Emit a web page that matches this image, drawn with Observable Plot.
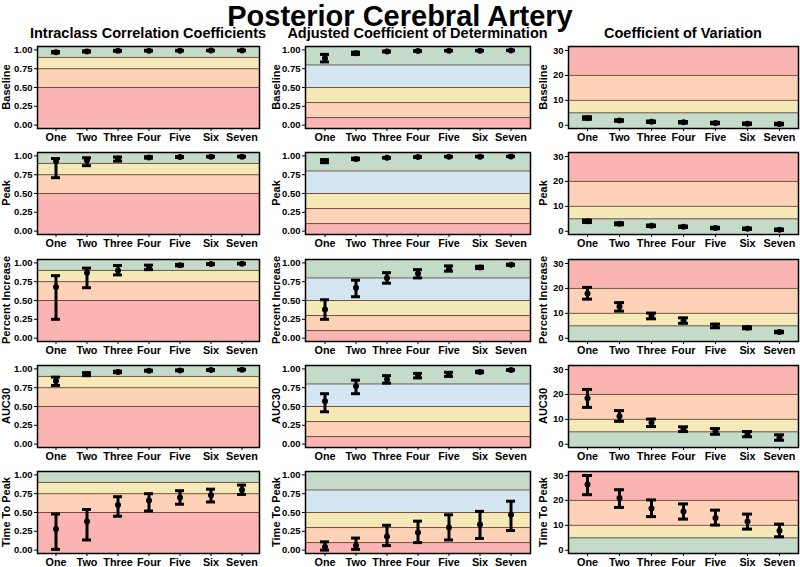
<!DOCTYPE html>
<html><head><meta charset="utf-8">
<script src="https://cdn.jsdelivr.net/npm/d3@7"></script>
<script src="https://cdn.jsdelivr.net/npm/@observablehq/plot@0.6"></script>
<style>
body{margin:0;background:#fff;}
#chart{position:relative;width:800px;height:567px;font-family:"Liberation Sans",Arial,sans-serif;font-weight:bold;color:#000;overflow:hidden}
.abs{position:absolute;white-space:nowrap;line-height:1}
</style></head><body><div id="chart"></div>
<script>
const mainTitle = "Posterior Cerebral Artery";
const columnTitles = ["Intraclass Correlation Coefficients", "Adjusted Coefficient of Determination", "Coefficient of Variation"];
const categories = ["One","Two","Three","Four","Five","Six","Seven"];
const rowLabels = ["Baseline","Peak","Percent Increase","AUC30","Time To Peak"];

// Intraclass correlation coefficients (rows: Baseline, Peak, Percent Increase, AUC30, Time To Peak)
const iccMean = [
  [0.970,0.980,0.988,0.990,0.990,0.992,0.993],
  [0.930,0.940,0.965,0.980,0.985,0.990,0.990],
  [0.680,0.870,0.900,0.940,0.970,0.985,0.990],
  [0.840,0.930,0.960,0.975,0.980,0.985,0.990],
  [0.280,0.380,0.600,0.660,0.700,0.730,0.800]];
const iccLow = [
  [0.960,0.972,0.982,0.985,0.986,0.988,0.989],
  [0.710,0.870,0.930,0.970,0.978,0.985,0.986],
  [0.250,0.670,0.840,0.910,0.960,0.978,0.986],
  [0.780,0.910,0.950,0.970,0.975,0.980,0.986],
  [0.010,0.135,0.450,0.520,0.610,0.640,0.740]];
const iccHigh = [
  [0.978,0.987,0.993,0.994,0.994,0.995,0.996],
  [0.965,0.975,0.985,0.990,0.992,0.994,0.995],
  [0.830,0.930,0.965,0.970,0.980,0.990,0.994],
  [0.890,0.950,0.970,0.982,0.986,0.990,0.994],
  [0.480,0.540,0.710,0.750,0.790,0.810,0.865]];

// Adjusted coefficient of determination
const r2Mean = [
  [0.890,0.955,0.978,0.985,0.990,0.990,0.993],
  [0.930,0.960,0.975,0.985,0.990,0.990,0.993],
  [0.380,0.670,0.800,0.860,0.920,0.940,0.975],
  [0.570,0.770,0.860,0.910,0.930,0.960,0.985],
  [0.040,0.060,0.180,0.235,0.300,0.340,0.470]];
const r2Low = [
  [0.840,0.940,0.972,0.981,0.986,0.987,0.990],
  [0.910,0.950,0.970,0.980,0.986,0.987,0.990],
  [0.250,0.550,0.730,0.800,0.890,0.925,0.968],
  [0.430,0.670,0.810,0.880,0.900,0.950,0.980],
  [0.000,0.010,0.060,0.100,0.135,0.155,0.260]];
const r2High = [
  [0.940,0.970,0.984,0.989,0.993,0.993,0.996],
  [0.950,0.970,0.980,0.990,0.993,0.994,0.996],
  [0.510,0.770,0.870,0.910,0.960,0.955,0.982],
  [0.670,0.850,0.910,0.940,0.955,0.970,0.990],
  [0.110,0.160,0.330,0.385,0.470,0.515,0.650]];

// Coefficient of variation (%)
const cvMean = [
  [2.9,1.9,1.4,1.2,0.9,0.6,0.5],
  [4.0,3.0,2.2,1.8,1.3,1.0,0.6],
  [18.0,12.7,9.0,7.0,5.0,4.2,2.5],
  [18.5,11.2,8.6,6.0,5.2,4.0,2.6],
  [26.4,21.0,16.8,15.6,12.9,11.5,7.8]];
const cvLow = [
  [2.4,1.6,1.1,0.9,0.6,0.3,0.2],
  [3.5,2.6,1.9,1.5,1.0,0.7,0.3],
  [15.7,10.9,7.8,6.0,4.2,3.8,2.2],
  [14.8,9.2,7.1,5.1,4.0,3.0,1.6],
  [22.3,17.2,13.5,12.5,10.1,8.5,5.4]];
const cvHigh = [
  [3.4,2.2,1.7,1.5,1.2,0.9,0.8],
  [4.5,3.4,2.5,2.1,1.6,1.3,0.9],
  [20.4,14.3,10.1,8.2,5.7,4.6,2.8],
  [22.0,13.5,10.1,7.0,6.3,5.1,3.8],
  [30.0,24.3,20.2,18.6,16.1,14.5,10.5]];

// Thresholds for the background zones
const iccBreaks = [0.5, 0.75, 0.9];
const r2Breaks = [0.1, 0.3, 0.5, 0.8];
const cvBreaks = [5, 10, 20];
const unitTicks = [0, 0.25, 0.5, 0.75, 1];
const cvTicks = [0, 10, 20, 30];

const GREEN = "#c4dbca", YELLOW = "#f6e9b8", SALMON = "#fdd2b7", RED = "#fab4b1", BLUE = "#d5e6f3";

const columns = [
  {mean: iccMean, low: iccLow, high: iccHigh, breaks: iccBreaks, domain: [-0.045, 1.045],
   colors: [RED, SALMON, YELLOW, GREEN], ticks: unitTicks, fmt: d3.format(".2f"),
   frameLeft: 37, frameWidth: 222, labelX: 6},
  {mean: r2Mean, low: r2Low, high: r2High, breaks: r2Breaks, domain: [-0.045, 1.045],
   colors: [RED, SALMON, YELLOW, BLUE, GREEN], ticks: unitTicks, fmt: d3.format(".2f"),
   frameLeft: 305, frameWidth: 225, labelX: 276},
  {mean: cvMean, low: cvLow, high: cvHigh, breaks: cvBreaks, domain: [-1.3, 31.6],
   colors: [GREEN, YELLOW, SALMON, RED], ticks: cvTicks, fmt: d3.format("d"),
   frameLeft: 568, frameWidth: 230, labelX: 543}
];
const frameTops = [46, 152, 258.5, 365, 471];
const frameH = 82;
const mL = 32, mR = 3, mT = 4, mB = 20;

const chart = document.getElementById("chart");

function addText(txt, left, top, size, extra) {
  const d = document.createElement("div");
  d.className = "abs";
  d.textContent = txt;
  d.style.left = left + "px";
  d.style.top = top + "px";
  d.style.fontSize = size + "px";
  if (extra) Object.assign(d.style, extra);
  chart.appendChild(d);
  return d;
}

addText(mainTitle, 400, 2, 29, {transform: "translateX(-50%)"});
columns.forEach((c, ci) => {
  addText(columnTitles[ci], c.frameLeft + c.frameWidth / 2, 25.7, 14.5, {transform: "translateX(-50%)"});
});

columns.forEach((c, ci) => {
  rowLabels.forEach((rl, ri) => {
    const data = categories.map((cat, i) => ({cat, mean: c.mean[ri][i], low: c.low[ri][i], high: c.high[ri][i]}));
    const edges = [c.domain[0], ...c.breaks, c.domain[1]];
    const bands = c.colors.map((f, i) => ({y1: edges[i], y2: edges[i + 1], fill: f}));
    const svg = Plot.plot({
      width: c.frameWidth + mL + mR,
      height: frameH + mT + mB,
      marginLeft: mL, marginRight: mR, marginTop: mT, marginBottom: mB,
      x: {type: "band", domain: categories, paddingInner: 0, paddingOuter: 0.08},
      y: {domain: c.domain},
      color: {type: "identity"},
      style: {fontFamily: "'Liberation Sans', Arial, sans-serif", fontWeight: "bold", background: "transparent", color: "#000", overflow: "visible"},
      marks: [
        Plot.rect(bands, {y1: "y1", y2: "y2", fill: "fill"}),
        Plot.ruleY(c.breaks, {stroke: "#5b3a2c", strokeWidth: 1, strokeOpacity: 0.85}),
        Plot.ruleX(data, {x: "cat", y1: "low", y2: "high", stroke: "#000", strokeWidth: 3}),
        Plot.tickY(data, {x: "cat", y: "low", stroke: "#000", strokeWidth: 3, insetLeft: 11, insetRight: 11}),
        Plot.tickY(data, {x: "cat", y: "high", stroke: "#000", strokeWidth: 3, insetLeft: 11, insetRight: 11}),
        Plot.dot(data, {x: "cat", y: "mean", r: 3, fill: "#000"}),
        Plot.frame({stroke: "#000", strokeWidth: 1.5}),
        Plot.axisX({tickSize: 3, tickPadding: 2, fontSize: 10.8, label: null}),
        Plot.axisY({ticks: c.ticks, tickFormat: c.fmt, tickSize: 3, tickPadding: 2, fontSize: 9.5, label: null})
      ]
    });
    svg.style.position = "absolute";
    svg.style.left = (c.frameLeft - mL) + "px";
    svg.style.top = (frameTops[ri] - mT) + "px";
    chart.appendChild(svg);
    addText(rl, c.labelX, frameTops[ri] + frameH / 2, 11, {transform: "translate(-50%,-50%) rotate(-90deg)"});
  });
});
</script>
</body></html>
